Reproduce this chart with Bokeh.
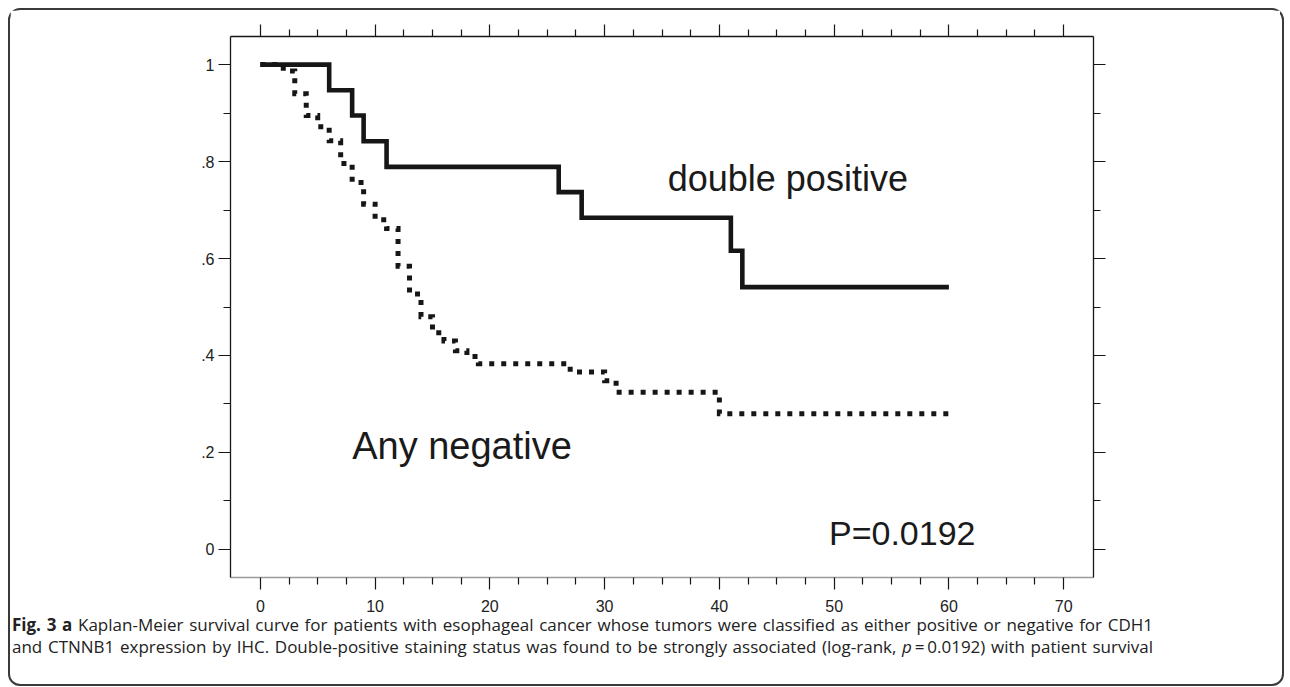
from bokeh.plotting import figure
from bokeh.models import Range1d, LinearAxis, FixedTicker, Label, Div
from bokeh.layouts import column
from bokeh.embed import file_html
from bokeh.resources import INLINE

# ---- data ----
pos_time = [0, 6, 8, 9, 11, 26, 28, 41, 42, 60]
pos_surv = [1.0, 0.947, 0.895, 0.842, 0.789, 0.737, 0.684, 0.616, 0.541, 0.541]

neg_time = [0, 2, 3, 4, 5, 6, 7, 8, 9, 10, 11, 12, 13, 14, 15, 16, 17, 18, 19, 27, 30, 31, 40, 60]
neg_surv = [1.0, 0.987, 0.94, 0.895, 0.872, 0.843, 0.796, 0.757, 0.712, 0.68, 0.662, 0.584,
            0.527, 0.48, 0.447, 0.43, 0.41, 0.398, 0.383, 0.366, 0.348, 0.324, 0.28, 0.28]

x_ticks = [0, 10, 20, 30, 40, 50, 60, 70]
x_minor = [2.5, 5, 7.5, 12.5, 15, 17.5, 22.5, 25, 27.5, 32.5, 35, 37.5, 42.5, 45, 47.5,
           52.5, 55, 57.5, 62.5, 65, 67.5]
y_ticks = [0, 0.2, 0.4, 0.6, 0.8, 1]
y_labels = ["0", ".2", ".4", ".6", ".8", "1"]
y_minor = [0.1, 0.3, 0.5, 0.7, 0.9]

annot_text = ["double positive", "Any negative", "P=0.0192"]
annot_x = [35.5, 8.0, 49.55]
annot_y = [0.766, 0.213, 0.0336]
annot_size = ["36px", "38px", "34px"]

caption_line1 = ("<b>Fig. 3 a</b> Kaplan-Meier survival curve for patients with esophageal cancer "
                 "whose tumors were classified as either positive or negative for CDH1")
caption_line2 = ("and CTNNB1 expression by IHC. Double-positive staining status was found to be "
                 "strongly associated (log-rank, <i>p</i>\u2009=\u20090.0192) with patient survival")

INK = "#161616"
FONT = "Liberation Sans"

p = figure(frame_width=863, frame_height=541,
           x_range=Range1d(-2.6, 72.6), y_range=Range1d(-0.058, 1.058),
           output_backend="svg", toolbar_location=None,
           x_axis_location=None, y_axis_location=None,
           min_border_left=220, min_border_right=187,
           min_border_top=26, min_border_bottom=42)
p.grid.visible = False
p.outline_line_color = None
p.background_fill_color = "white"
p.border_fill_color = "white"


def style_axis(ax):
    ax.axis_line_color = INK
    ax.axis_line_width = 1.3
    ax.major_tick_out = 12
    ax.major_tick_in = 0
    ax.minor_tick_out = 7
    ax.minor_tick_in = 0
    ax.major_tick_line_color = INK
    ax.minor_tick_line_color = INK
    ax.major_tick_line_width = 1.2
    ax.minor_tick_line_width = 1.2
    ax.major_label_text_font = FONT
    ax.major_label_text_font_size = "16px"
    ax.major_label_text_color = "#222222"


xt = FixedTicker(ticks=x_ticks, minor_ticks=x_minor)
yt = FixedTicker(ticks=y_ticks, minor_ticks=y_minor)

bottom = LinearAxis(ticker=xt)
style_axis(bottom)
bottom.axis_line_color = "#9a9a9a"
bottom.major_label_standoff = 10
top = LinearAxis(ticker=xt, major_label_overrides={t: "" for t in x_ticks})
style_axis(top)
left = LinearAxis(ticker=yt, major_label_overrides=dict(zip(y_ticks, y_labels)))
style_axis(left)
left.major_label_standoff = 4
right = LinearAxis(ticker=yt, major_label_overrides={t: "" for t in y_ticks})
style_axis(right)

p.add_layout(bottom, "below")
p.add_layout(top, "above")
p.add_layout(left, "left")
p.add_layout(right, "right")

# Kaplan-Meier curves
p.step(pos_time, pos_surv, mode="after", line_width=4.6, line_color=INK, line_join="miter")
p.step(neg_time, neg_surv, mode="after", line_width=5, line_color=INK,
       line_dash="5 7", line_cap="butt", line_join="miter")

for t, x, y, s in zip(annot_text, annot_x, annot_y, annot_size):
    p.add_layout(Label(x=x, y=y, text=t, text_font=FONT, text_font_size=s,
                       text_color="#1a1a1a", text_align="left", text_baseline="alphabetic"))

line_style = ("white-space:nowrap;text-align:justify;text-align-last:justify;"
              "width:1141px;margin-left:2px;")
cap = Div(width=1270, height=65, margin=0,
          text=(f'<div style="font-family:\'Open Sans\',sans-serif;font-size:17px;'
                f'line-height:22px;color:#222;margin-top:-5px;">'
                f'<div style="{line_style}">{caption_line1}</div>'
                f'<div style="{line_style}">{caption_line2}</div></div>'))

layout = column(p, cap, styles={"margin-left": "8px", "margin-top": "8px",
                                "width": "1276px", "height": "678px",
                                "box-sizing": "border-box",
                                "border": "2px solid #3a3a3a", "border-radius": "12px",
                                "background": "white"})

open("out.html", "w").write(file_html(layout, INLINE))
